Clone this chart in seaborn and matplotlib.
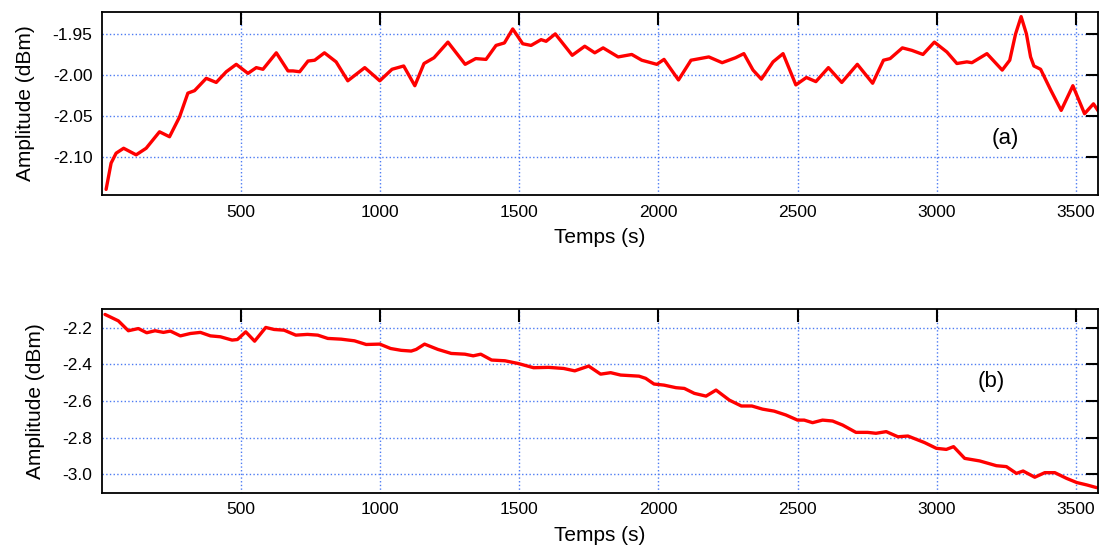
import numpy as np
import pandas as pd
import seaborn as sns
import matplotlib
matplotlib.use("Agg")
import matplotlib.pyplot as plt

# (a) amplitude vs time
t_a = [14, 32, 50, 77, 122, 158, 206, 242, 278, 308,
       332, 374, 410, 446, 482, 524, 554, 578, 626, 668,
       686, 710, 740, 764, 799, 841, 883, 944, 998, 1042,
       1084, 1124, 1157, 1193, 1243, 1305, 1343, 1380, 1416, 1446,
       1476, 1512, 1542, 1578, 1596, 1629, 1690, 1735, 1771, 1801,
       1855, 1904, 1940, 1994, 2020, 2072, 2117, 2181, 2229, 2277,
       2307, 2340, 2370, 2412, 2448, 2494, 2532, 2566, 2611, 2659,
       2715, 2770, 2809, 2833, 2877, 2911, 2951, 2992, 3037, 3073,
       3109, 3127, 3181, 3236, 3263, 3284, 3304, 3323, 3338, 3350,
       3374, 3410, 3448, 3490, 3532, 3564, 3584]
amp_a = [-2.139, -2.107, -2.095, -2.089, -2.097, -2.089, -2.069, -2.075, -2.051, -2.022,
         -2.019, -2.004, -2.009, -1.996, -1.987, -1.998, -1.991, -1.993, -1.973, -1.995,
         -1.995, -1.996, -1.983, -1.982, -1.973, -1.984, -2.007, -1.991, -2.007, -1.993,
         -1.989, -2.013, -1.986, -1.979, -1.960, -1.987, -1.980, -1.981, -1.964, -1.961,
         -1.944, -1.962, -1.964, -1.957, -1.959, -1.950, -1.976, -1.965, -1.973, -1.967,
         -1.978, -1.975, -1.982, -1.987, -1.981, -2.006, -1.982, -1.978, -1.985, -1.979,
         -1.974, -1.994, -2.005, -1.984, -1.974, -2.012, -2.003, -2.008, -1.991, -2.009,
         -1.987, -2.010, -1.982, -1.980, -1.967, -1.970, -1.975, -1.960, -1.972, -1.986,
         -1.984, -1.985, -1.974, -1.994, -1.982, -1.950, -1.929, -1.950, -1.978, -1.989,
         -1.993, -2.018, -2.043, -2.013, -2.047, -2.035, -2.045]

# (b) amplitude vs time
t_b = [10, 28, 58, 94, 130, 160, 190, 220, 245, 281,
       317, 353, 389, 425, 467, 486, 516, 548, 588, 618,
       654, 696, 738, 775, 811, 859, 907, 949, 998, 1037,
       1075, 1111, 1129, 1159, 1207, 1255, 1304, 1334, 1361, 1400,
       1448, 1496, 1551, 1605, 1659, 1699, 1749, 1792, 1828, 1864,
       1930, 1954, 1984, 2020, 2063, 2093, 2129, 2171, 2207, 2255,
       2298, 2336, 2374, 2416, 2458, 2500, 2524, 2554, 2590, 2626,
       2662, 2710, 2752, 2782, 2819, 2861, 2897, 2957, 2999, 3035,
       3061, 3101, 3155, 3215, 3251, 3287, 3311, 3353, 3389, 3425,
       3467, 3504, 3540, 3576]
amp_b = [-2.127, -2.140, -2.162, -2.216, -2.204, -2.227, -2.216, -2.225, -2.218, -2.244,
         -2.231, -2.225, -2.244, -2.249, -2.267, -2.264, -2.222, -2.273, -2.198, -2.209,
         -2.213, -2.240, -2.236, -2.240, -2.258, -2.262, -2.271, -2.291, -2.289, -2.313,
         -2.323, -2.327, -2.318, -2.289, -2.318, -2.340, -2.344, -2.353, -2.344, -2.376,
         -2.380, -2.395, -2.418, -2.416, -2.422, -2.435, -2.409, -2.453, -2.445, -2.458,
         -2.464, -2.476, -2.507, -2.513, -2.527, -2.531, -2.558, -2.573, -2.540, -2.595,
         -2.627, -2.627, -2.644, -2.655, -2.676, -2.704, -2.704, -2.718, -2.704, -2.709,
         -2.731, -2.771, -2.771, -2.776, -2.767, -2.795, -2.791, -2.827, -2.858, -2.864,
         -2.849, -2.913, -2.927, -2.953, -2.958, -2.995, -2.982, -3.016, -2.991, -2.991,
         -3.022, -3.045, -3.058, -3.073]

x_ticks = [500, 1000, 1500, 2000, 2500, 3000, 3500]
y_ticks_a = [-1.95, -2.00, -2.05, -2.10]
y_ticks_b = [-2.2, -2.4, -2.6, -2.8, -3.0]

sns.set_style("white")
plt.rcParams['font.family'] = ['Liberation Sans', 'DejaVu Sans']
plt.rcParams['text.color'] = 'black'
plt.rcParams['axes.labelcolor'] = 'black'
plt.rcParams['xtick.color'] = 'black'
plt.rcParams['ytick.color'] = 'black'

fig = plt.figure(figsize=(10.99, 5.56), dpi=100)
ax1 = fig.add_axes([0.093, 0.649, 0.906, 0.330])
ax2 = fig.add_axes([0.093, 0.114, 0.906, 0.330])

grid_col = '#4d7bf3'

def style(ax, yticks, fmt):
    ax.set_xlim(0, 3580)
    ax.set_xticks(x_ticks)
    ax.set_yticks(yticks)
    ax.set_yticklabels([fmt % v for v in yticks])
    ax.grid(True, color=grid_col, linestyle=':', linewidth=1.0)
    ax.tick_params(direction='in', top=True, right=True, length=9, width=1.5,
                   labelsize=12.5, color='black', labelcolor='black', pad=7)
    for sp in ax.spines.values():
        sp.set_color('black')
        sp.set_linewidth(1.3)
    ax.set_xlabel('Temps (s)', fontsize=15, labelpad=6, color='black')
    ax.set_ylabel('Amplitude (dBm)', fontsize=15, labelpad=13, color='black')

df_a = pd.DataFrame({'t': t_a, 'amp': amp_a})
df_b = pd.DataFrame({'t': t_b, 'amp': amp_b})

sns.lineplot(data=df_a, x='t', y='amp', ax=ax1, color='red', linewidth=2.4,
             sort=False, estimator=None, solid_joinstyle='round')
sns.lineplot(data=df_b, x='t', y='amp', ax=ax2, color='red', linewidth=2.4,
             sort=False, estimator=None, solid_joinstyle='round')

ax1.set_ylim(-2.146, -1.923)
ax2.set_ylim(-3.1, -2.098)
style(ax1, y_ticks_a, '%.2f')
style(ax2, y_ticks_b, '%.1f')

ax1.text(3246, -2.0766, '(a)', fontsize=16, ha='center', va='center')
ax2.text(3198, -2.495, '(b)', fontsize=16, ha='center', va='center')

fig.savefig('out.png', dpi=100)
